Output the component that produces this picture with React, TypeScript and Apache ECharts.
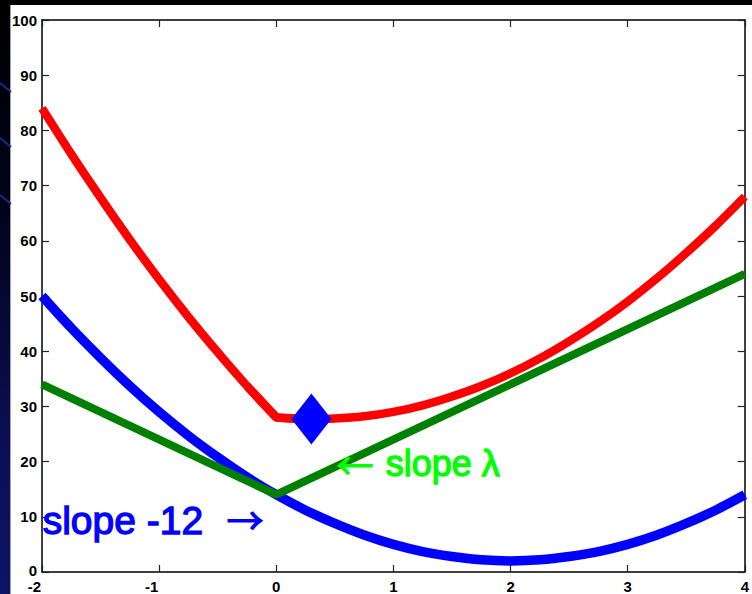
import React, { useEffect, useRef } from "react";
import * as echarts from "echarts";

// x positions at which the curves were read
const xs = [-2, -1.75, -1.5, -1.25, -1, -0.75, -0.5, -0.25, 0, 0.25, 0.5, 0.75, 1, 1.25, 1.5, 1.75, 2, 2.25, 2.5, 2.75, 3, 3.25, 3.5, 3.75, 4];
// blue curve (loss)
const blueVals = [50, 44.2, 38.8, 33.7, 29, 24.7, 20.8, 17.2, 14, 11.2, 8.8, 6.7, 5, 3.7, 2.8, 2.2, 2, 2.2, 2.8, 3.7, 5, 6.7, 8.8, 11.2, 14];
// red curve (loss + penalty)
const redVals = [84, 75.7, 67.8, 60.2, 53, 46.2, 39.8, 33.7, 28, 27.7, 27.8, 28.2, 29, 30.2, 31.8, 33.7, 36, 38.7, 41.8, 45.2, 49, 53.2, 57.8, 62.7, 68];
// green penalty (piecewise linear)
const greenX = [-2, 0, 4];
const greenVals = [34, 14, 54];
// minimum marker
const markerX = [0.3];
const markerY = [27.7];

const xTicks = { min: -2, max: 4, interval: 1 };
const yTicks = { min: 0, max: 100, interval: 10 };

const FONT = "'Liberation Sans', Arial, Helvetica, sans-serif";
const ARROW_FONT = "'Noto Sans CJK JP', 'DejaVu Sans', sans-serif";

function pairs(x: number[], y: number[]) {
  return x.map((v, i) => [v, y[i]]);
}

export default function App() {
  const ref = useRef<HTMLDivElement>(null);

  useEffect(() => {
    if (!ref.current) return;
    const chart = echarts.init(ref.current, undefined, { renderer: "svg" });

    const axisLine = { show: true, onZero: false, lineStyle: { color: "#000", width: 1.5 } };
    const axisTick = { show: true, inside: true, length: 7, lineStyle: { color: "#222", width: 1.2 } };
    const labelStyle = {
      fontFamily: FONT,
      fontWeight: "bold" as const,
      fontSize: 15,
      color: "#000",
    };

    // red curve has a kink at x = 0: draw its two smooth halves separately,
    // plus a short unsmoothed piece over the kink for a clean mitred corner
    const redPts = pairs(xs, redVals);
    const redLeft = redPts.filter((p) => p[0] <= 0);
    const redRight = redPts.filter((p) => p[0] >= 0);
    const kinkIdx = xs.indexOf(0);
    const redKink = redPts.slice(kinkIdx - 1, kinkIdx + 2);
    const redStyle = { color: "#ff0000", width: 8.5 };

    chart.setOption({
      animation: false,
      backgroundColor: "transparent",
      grid: { left: 42, right: 6, top: 20, bottom: 20, containLabel: false },
      xAxis: [
        {
          type: "value",
          position: "bottom",
          ...xTicks,
          axisLine,
          axisTick,
          splitLine: { show: false },
          axisLabel: {
            ...labelStyle,
            margin: 7,
            showMinLabel: true,
            showMaxLabel: true,
            formatter: (v: number) => (v < 0 ? "{neg|" + v + "}" : String(v)),
            rich: {
              neg: { ...labelStyle, padding: [0, 15, 0, 0] },
            },
          },
        },
        {
          type: "value",
          position: "top",
          ...xTicks,
          axisLine,
          axisTick,
          splitLine: { show: false },
          axisLabel: { show: false },
        },
      ],
      yAxis: [
        {
          type: "value",
          position: "left",
          ...yTicks,
          axisLine,
          axisTick,
          splitLine: { show: false },
          axisLabel: {
            ...labelStyle,
            margin: 5,
            showMinLabel: true,
            showMaxLabel: true,
            formatter: (v: number) => (v === 0 ? "{zero|0}" : String(v)),
            rich: {
              zero: { ...labelStyle, padding: [0, 0, 4, 0] },
            },
          },
        },
        {
          type: "value",
          position: "right",
          ...yTicks,
          axisLine,
          axisTick,
          splitLine: { show: false },
          axisLabel: { show: false },
        },
      ],
      series: [
        {
          type: "line",
          name: "loss",
          data: pairs(xs, blueVals),
          smooth: 0.3,
          showSymbol: false,
          symbol: "none",
          lineStyle: { color: "#0000ff", width: 9.5 },
          z: 2,
        },
        {
          type: "line",
          name: "penalty",
          data: pairs(greenX, greenVals),
          showSymbol: false,
          symbol: "none",
          lineStyle: { color: "#008000", width: 8 },
          z: 3,
        },
        {
          type: "line",
          name: "total",
          data: redLeft,
          smooth: 0.3,
          showSymbol: false,
          symbol: "none",
          lineStyle: redStyle,
          z: 4,
        },
        {
          type: "line",
          name: "total",
          data: redRight,
          smooth: 0.3,
          showSymbol: false,
          symbol: "none",
          lineStyle: redStyle,
          z: 4,
        },
        {
          type: "line",
          name: "total",
          data: redKink,
          showSymbol: false,
          symbol: "none",
          lineStyle: { ...redStyle, join: "miter" },
          z: 4,
        },
        {
          type: "scatter",
          name: "minimum",
          data: pairs(markerX, markerY),
          symbol: "diamond",
          symbolSize: [40, 51],
          itemStyle: { color: "#0000ff", opacity: 1 },
          z: 5,
        },
      ],
      graphic: [
        // decorative slide lines in the left strip
        { type: "line", shape: { x1: 0, y1: 83, x2: 11, y2: 92 }, style: { stroke: "#1c2a90", lineWidth: 2 }, silent: true },
        { type: "line", shape: { x1: 0, y1: 138, x2: 11, y2: 147 }, style: { stroke: "#1c2a90", lineWidth: 2 }, silent: true },
        { type: "line", shape: { x1: 0, y1: 195, x2: 11, y2: 204 }, style: { stroke: "#1c2a90", lineWidth: 2 }, silent: true },
        {
          type: "text",
          left: 42,
          top: 500,
          style: { text: "slope -12", fill: "#0000ff", stroke: "#0000ff", lineWidth: 1.3, font: "39px " + FONT },
          z: 10,
        },
        {
          type: "text",
          left: 226,
          top: 500,
          style: { text: "\u2192", fill: "#0000ff", stroke: "#0000ff", lineWidth: 1, font: "37px " + ARROW_FONT },
          z: 10,
        },
        {
          type: "text",
          left: 336,
          top: 445,
          style: { text: "\u2190", fill: "#00ff00", stroke: "#00ff00", lineWidth: 1, font: "37px " + ARROW_FONT },
          z: 10,
        },
        {
          type: "text",
          left: 385,
          top: 445,
          style: { text: "slope \u03bb", fill: "#00ff00", stroke: "#00ff00", lineWidth: 1.3, font: "36px " + FONT },
          z: 10,
        },
      ],
    });

    return () => chart.dispose();
  }, []);

  return (
    <div style={{ position: "absolute", left: 0, top: 0, width: 752, height: 594, background: "#ffffff", overflow: "hidden" }}>
      <div
        style={{
          position: "absolute",
          left: 0,
          top: 0,
          width: 10,
          height: 594,
          background: "linear-gradient(to bottom, #000000 0%, #02031a 35%, #0a0f55 75%, #0c1466 100%)",
        }}
      />
      <div style={{ position: "absolute", left: 10, top: 0, width: 1, height: 594, background: "#9ea3c4" }} />
      <div style={{ position: "absolute", left: 0, top: 0, width: 752, height: 5, background: "#000000" }} />
      <div ref={ref} style={{ position: "absolute", left: 0, top: 0, width: 752, height: 594 }} />
    </div>
  );
}
